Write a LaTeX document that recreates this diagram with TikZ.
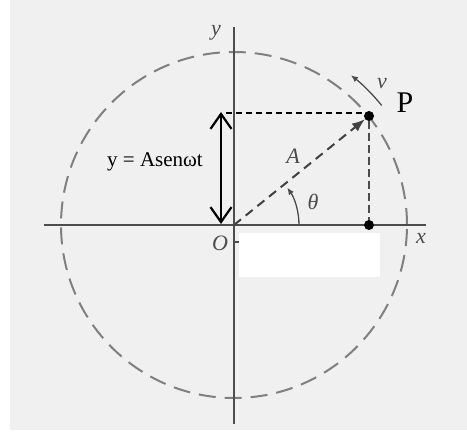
\documentclass[tikz,border=0pt]{standalone}
\usepackage{fontspec}
\setmainfont{Liberation Serif}
\usetikzlibrary{arrows.meta,calc}
\begin{document}
\begin{tikzpicture}[x=1pt,y=1pt,
  axis/.style={draw=black!70, line width=1.6pt},
  circ/.style={draw=black!50, line width=2pt, dash pattern=on 17pt off 9pt},
  guide/.style={draw=black, line width=1.3pt, dash pattern=on 6pt off 4pt},
  vguide/.style={draw=black!70, line width=2pt, dash pattern=on 8pt off 4pt},
  aline/.style={draw=black!75, line width=2pt, dash pattern=on 9pt off 6pt},
  lbl/.style={font=\itshape\fontsize{22}{22}\selectfont, text=black!70, inner sep=0pt},
  dot/.style={circle, fill=black, inner sep=0pt, minimum size=10pt},
  thin arrow/.style={draw=black!70, line width=1.3pt, -{Latex[length=7pt,width=6pt]}},
  dbl/.style={draw=black, line width=2.2pt,
    {Straight Barb[length=15pt,width=21pt]}-{Straight Barb[length=15pt,width=21pt]}}
]
\useasboundingbox (0,0) rectangle (467,436);
\fill[white] (0,0) rectangle (467,436);
\fill[black!6] (10,6) rectangle (467,436);

\coordinate (O) at (234,211);
% dashed circle
\draw[circ] (O) circle (173pt);
% axes
\coordinate (xl) at (44,211);
\coordinate (xr) at (426,211);
\coordinate (yt) at (234,409);
\coordinate (yb) at (234,12);
\draw[axis] (xl) -- (xr);
\draw[axis] (yb) -- (yt);
\coordinate (tk1) at (235,194);
\coordinate (tk2) at (240,194);
\draw[axis, line width=1.2pt] (tk1) -- (tk2);

% blank rectangle
\fill[white] (239,203) rectangle (380,159);

% points
\node[dot] (P) at (369,320) {};
\node[dot] (F) at (369,211) {};

% guides
\coordinate (H) at (226,323);
\draw[guide] (H) -- (P.north west |- H);
\draw[vguide] (P) -- (F);
\draw[aline, -{Latex[length=13pt,width=10pt]}] (O) -- (P);

% angle arc
\draw[thin arrow] ($(O)+(0:65pt)$) arc (0:35:65pt);
% velocity arrow
\draw[thin arrow] ($(O)+(39:190pt)$) arc (39:52:190pt);

% double arrow
\coordinate (T) at (221,324);
\coordinate (B) at (221,212);
\draw[dbl] (T) -- (B);

% labels
\node[lbl] (ly) at (216,403) {y};
\node[lbl] (lx) at (421,198) {x};
\node[lbl] (lO) at (220,193) {O};
\node[lbl] (lA) at (293,280) {A};
\node[lbl] (lth) at (313,234) {θ};
\node[lbl] (lv) at (382,352) {v};
\node[font=\fontsize{30}{30}\selectfont, inner sep=0pt] (lP) at (405,333) {P};
\node[font=\fontsize{21}{21}\selectfont, inner sep=0pt] (eq) at (155,274) {y = Asenωt};
\end{tikzpicture}
\end{document}
